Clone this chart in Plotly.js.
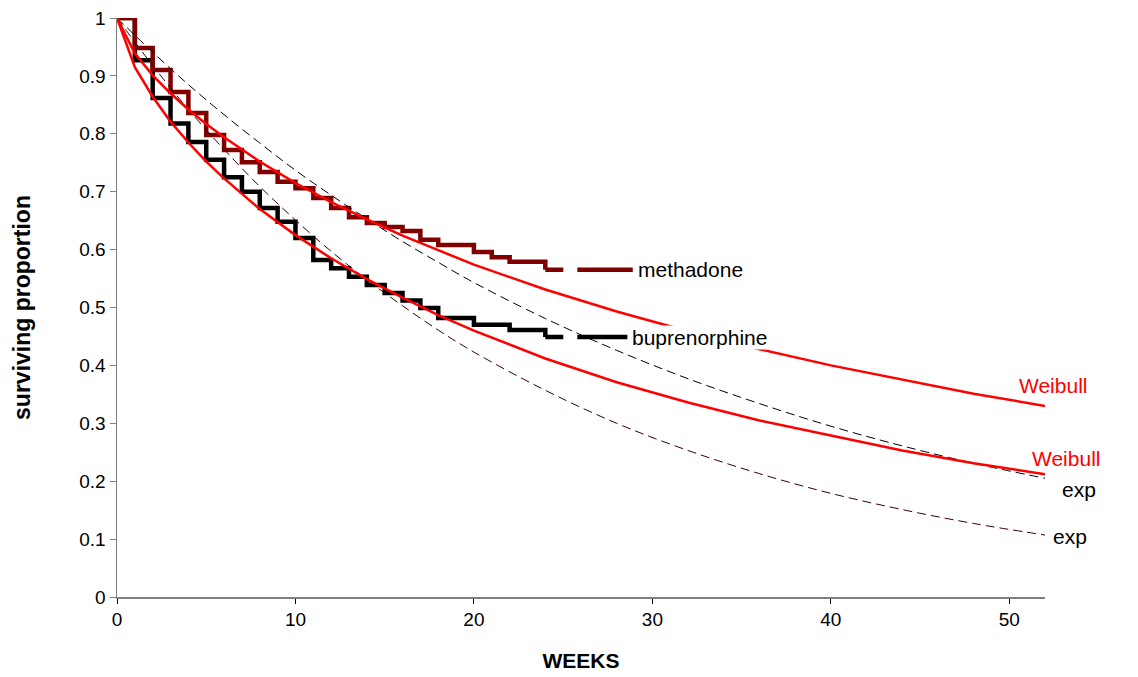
<!DOCTYPE html>
<html>
<head>
<meta charset="utf-8">
<script src="https://cdn.plot.ly/plotly-3.0.1.min.js"></script>
<style>html,body{margin:0;padding:0;background:#fff;}#chart{width:1138px;height:677px;}</style>
</head>
<body>
<div id="chart"></div>
<script>
// Kaplan-Meier step data (weeks, surviving proportion)
const methWeeks = [0,1,2,3,4,5,6,7,8,9,10,11,12,13,14,15,16,17,18,20,21,22,24];
const methSurv  = [1,0.948,0.910,0.872,0.836,0.798,0.772,0.751,0.734,0.717,0.706,0.689,0.672,0.656,0.646,0.639,0.632,0.617,0.608,0.596,0.587,0.579,0.565];
const methEnd = 28.9;

const bupWeeks = [0,1,2,3,4,5,6,7,8,9,10,11,12,13,14,15,16,17,18,20,22,24];
const bupSurv  = [1,0.927,0.862,0.818,0.786,0.755,0.725,0.700,0.672,0.648,0.620,0.582,0.568,0.553,0.539,0.525,0.512,0.499,0.482,0.470,0.461,0.449];
const bupEnd = 28.6;

// fitted curves (read at these weeks)
const fitWeeks = [0,1,2,3,4,5,6,8,10,12,14,16,18,20,24,28,32,36,40,44,48,52];
const weibullMeth = [1,0.939,0.901,0.870,0.842,0.817,0.794,0.752,0.715,0.682,0.652,0.624,0.599,0.574,0.531,0.493,0.459,0.428,0.400,0.375,0.351,0.330];
const weibullBup  = [1,0.915,0.864,0.821,0.785,0.752,0.723,0.670,0.625,0.585,0.549,0.517,0.487,0.460,0.412,0.371,0.336,0.305,0.279,0.253,0.231,0.212];

const expWeeks = [0,2,4,6,8,10,12,14,16,18,20,24,28,32,36,40,44,48,52];
const expMeth = [1,0.941,0.885,0.833,0.784,0.737,0.694,0.653,0.614,0.578,0.543,0.481,0.426,0.377,0.334,0.295,0.261,0.231,0.205];
const expBup  = [1,0.918,0.842,0.773,0.709,0.651,0.597,0.548,0.503,0.461,0.423,0.357,0.300,0.253,0.213,0.179,0.151,0.127,0.107];

const xTicks = [0,10,20,30,40,50];
const yTicks = [0,0.1,0.2,0.3,0.4,0.5,0.6,0.7,0.8,0.9,1];
const yTickText = ['0','0.1','0.2','0.3','0.4','0.5','0.6','0.7','0.8','0.9','1'];

const FONT = 'Arial, "Liberation Sans", sans-serif';
const methColor = '#800000';
const bupColor = '#000000';
const red = '#ff0000';

const lastM = methSurv[methSurv.length-1], lastMw = methWeeks[methWeeks.length-1];
const lastB = bupSurv[bupSurv.length-1], lastBw = bupWeeks[bupWeeks.length-1];
const tailDash = '18px,14px,400px';

const traces = [
  {x: bupWeeks, y: bupSurv, mode:'lines', line:{shape:'hv', color:bupColor, width:4.5}, hoverinfo:'skip'},
  {x: [lastBw, bupEnd], y: [lastB, lastB], mode:'lines', line:{color:bupColor, width:4.5, dash:tailDash}, hoverinfo:'skip'},
  {x: methWeeks, y: methSurv, mode:'lines', line:{shape:'hv', color:methColor, width:4.5}, hoverinfo:'skip'},
  {x: [lastMw, methEnd], y: [lastM, lastM], mode:'lines', line:{color:methColor, width:4.5, dash:tailDash}, hoverinfo:'skip'},
  {x: expWeeks, y: expMeth, mode:'lines', line:{color:'#000000', width:1, dash:'9px,5px', shape:'spline'}, hoverinfo:'skip'},
  {x: expWeeks, y: expBup, mode:'lines', line:{color:'#3a0000', width:1, dash:'9px,5px', shape:'spline'}, hoverinfo:'skip'},
  {x: fitWeeks, y: weibullMeth, mode:'lines', line:{color:red, width:2.5}, hoverinfo:'skip'},
  {x: fitWeeks, y: weibullBup, mode:'lines', line:{color:red, width:2.5}, hoverinfo:'skip'}
];

const annFont = {family: FONT, size: 21, color:'#000'};
const redFont = {family: FONT, size: 21, color: red};
const layout = {
  width:1138, height:677,
  margin:{l:117, r:93, t:18, b:80},
  paper_bgcolor:'#fff', plot_bgcolor:'#fff',
  showlegend:false,
  font:{family:FONT, size:19, color:'#000'},
  xaxis:{
    range:[0,52], tickvals:xTicks, ticktext:xTicks.map(String),
    showgrid:false, zeroline:false, showline:true, linecolor:'#808080', linewidth:1.5,
    ticks:'outside', ticklen:5, tickcolor:'#000', tickfont:{family:FONT, size:19},
    title:{text:'<b>WEEKS</b>', font:{family:FONT, size:21}, standoff:24}
  },
  yaxis:{
    range:[0,1], tickvals:yTicks, ticktext:yTickText,
    showgrid:false, zeroline:false, showline:true, linecolor:'#808080', linewidth:1.5,
    ticks:'outside', ticklen:6, tickcolor:'#808080', tickfont:{family:FONT, size:19},
    title:{text:'<b>surviving proportion</b>', font:{family:FONT, size:23}, standoff:42}
  },
  annotations:[
    {x:methEnd, y:lastM, xref:'x', yref:'y', text:'methadone', showarrow:false, xanchor:'left', xshift:3, font:annFont},
    {x:bupEnd, y:lastB, xref:'x', yref:'y', text:'buprenorphine', showarrow:false, xanchor:'left', xshift:4, font:annFont, bgcolor:'#fff', borderpad:0},
    {x:50.45, y:0.365, xref:'x', yref:'y', text:'Weibull', showarrow:false, xanchor:'left', font:redFont},
    {x:51.15, y:0.24, xref:'x', yref:'y', text:'Weibull', showarrow:false, xanchor:'left', font:redFont},
    {x:1.016, y:0.185, xref:'paper', yref:'y', text:'exp', showarrow:false, xanchor:'left', font:annFont},
    {x:1.007, y:0.104, xref:'paper', yref:'y', text:'exp', showarrow:false, xanchor:'left', font:annFont}
  ]
};

Plotly.newPlot('chart', traces, layout, {staticPlot:true, displayModeBar:false});
</script>
</body>
</html>
